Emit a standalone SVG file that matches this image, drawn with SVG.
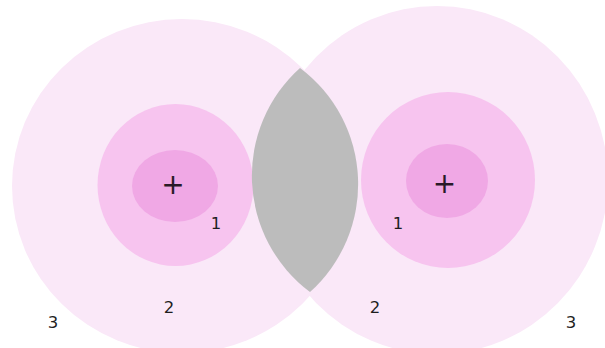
<svg xmlns="http://www.w3.org/2000/svg" width="605" height="348" viewBox="0 0 605 348">
<style>
.outer{fill:#fae8f8}
.mid{fill:#f7c4ef}
.inner{fill:#f0a8e5}
.lens{fill:#bcbcbc}
.lbl{font-family:"DejaVu Sans",Verdana,sans-serif;font-size:16.5px;fill:#1e1e1e;text-anchor:middle}
.plus{font-family:"DejaVu Sans",Verdana,sans-serif;font-size:28px;fill:#2a1a28;text-anchor:middle}
</style>
<rect width="605" height="348" fill="#ffffff"/>
<g id="atom-left-outer"><ellipse class="outer" cx="182" cy="186" rx="170" ry="167"/></g>
<g id="atom-right-outer"><ellipse class="outer" cx="437" cy="180" rx="171" ry="174"/></g>
<g id="atom-left">
<ellipse class="mid" cx="175.5" cy="185" rx="78" ry="81"/>
<ellipse class="inner" cx="175" cy="186" rx="43" ry="36"/>
<text class="plus" x="173" y="194">+</text>
<text class="lbl" x="216" y="229">1</text>
<text class="lbl" x="169" y="313">2</text>
<text class="lbl" x="53" y="328">3</text>
</g>
<g id="atom-right">
<ellipse class="mid" cx="448" cy="180" rx="87" ry="88"/>
<ellipse class="inner" cx="447" cy="181" rx="41" ry="37"/>
<text class="plus" x="444.5" y="193">+</text>
<text class="lbl" x="398" y="229">1</text>
<text class="lbl" x="375" y="313">2</text>
<text class="lbl" x="571" y="328">3</text>
</g>
<g id="overlap"><path class="lens" d="M300,68 A145,145 0 0 1 310,292 A145,145 0 0 1 300,68 Z"/></g>
<g id="connectors"></g>
</svg>
